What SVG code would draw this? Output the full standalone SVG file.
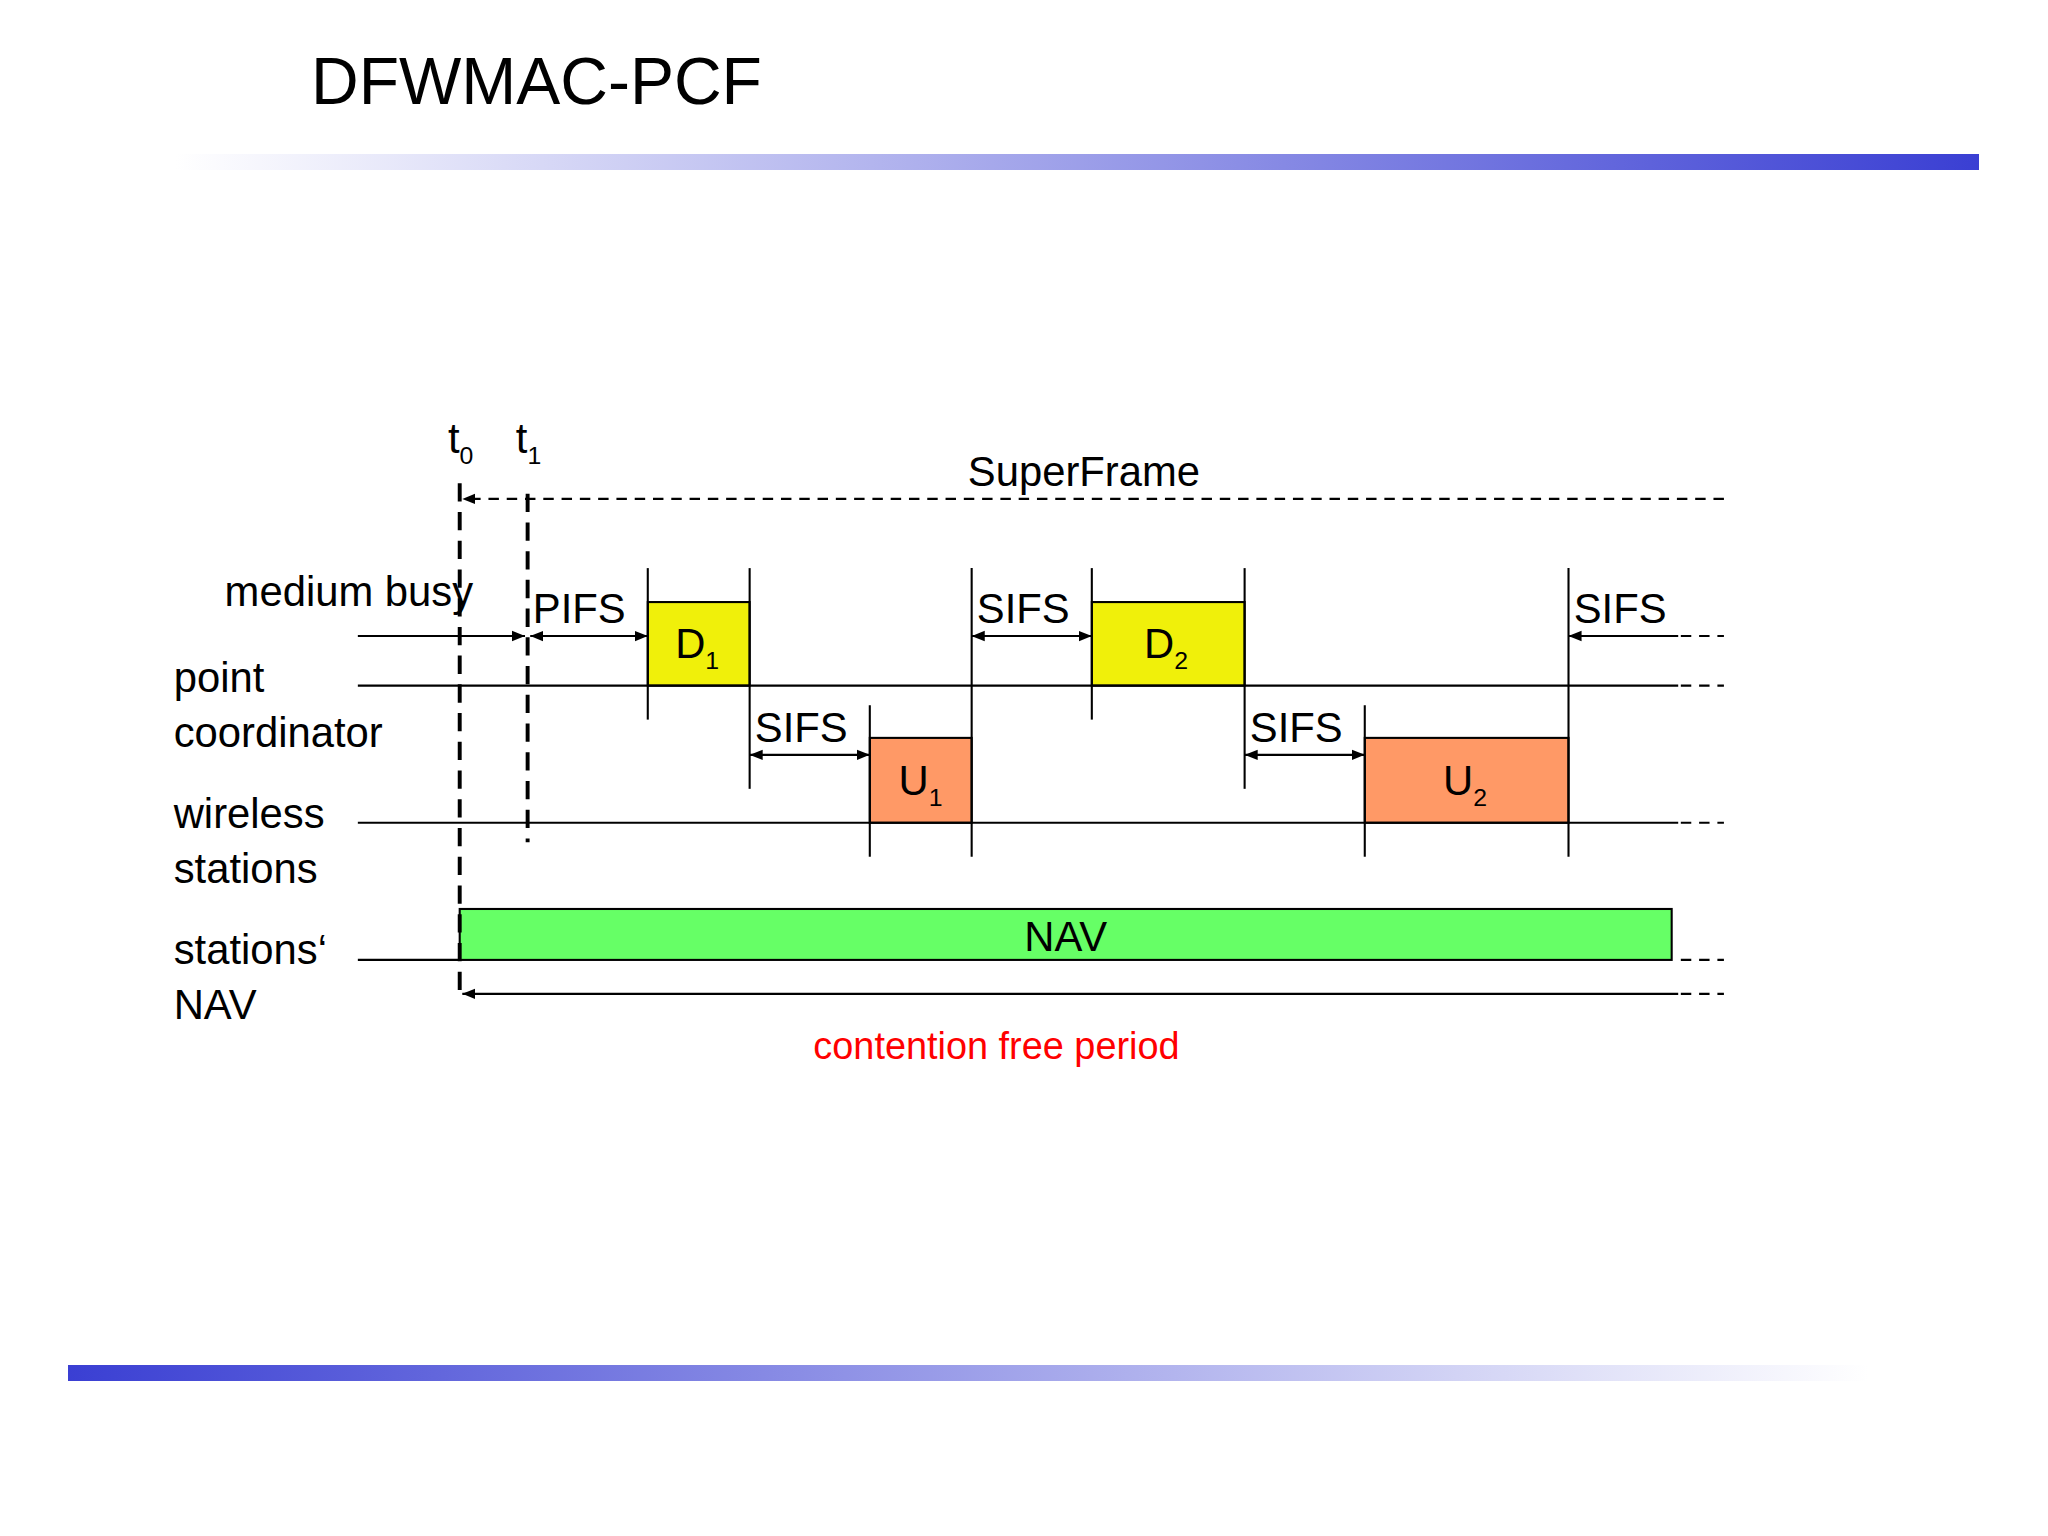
<svg xmlns="http://www.w3.org/2000/svg" width="2048" height="1536" viewBox="0 0 2048 1536">
<defs>
<linearGradient id="gTop" x1="0" x2="1" y1="0" y2="0"><stop offset="0" stop-color="#ffffff"/><stop offset="1" stop-color="#3a3fd3"/></linearGradient>
<linearGradient id="gBot" x1="0" x2="1" y1="0" y2="0"><stop offset="0" stop-color="#3a3fd3"/><stop offset="1" stop-color="#ffffff"/></linearGradient>
<marker id="ah" viewBox="0 0 10 10" refX="10" refY="5" markerWidth="10" markerHeight="10" markerUnits="userSpaceOnUse" orient="auto-start-reverse"><path d="M0,1 L10,5 L0,9 z" fill="#000"/></marker>
<style>
text{font-family:"Liberation Sans",Arial,sans-serif;fill:#000}
.lbl{font-size:32px}
.sub{font-size:19px}
.ln{stroke:#000;stroke-width:1.6;fill:none}
.dsh{stroke:#000;stroke-width:1.6;stroke-dasharray:8 6;fill:none}
.thick{stroke:#000;stroke-width:3;stroke-dasharray:14 8;fill:none}
</style>
</defs>
<rect width="2048" height="1536" fill="#fff"/>
<text x="311" y="104" style="font-size:66px">DFWMAC-PCF</text>
<rect x="176" y="154" width="1803" height="16" fill="url(#gTop)"/>
<rect x="68" y="1365" width="1800" height="16" fill="url(#gBot)"/>
<g transform="scale(1.306)">
<g id="labels">
<text class="lbl" x="343" y="347">t<tspan class="sub" dy="8">0</tspan></text>
<text class="lbl" x="395" y="347">t<tspan class="sub" dy="8">1</tspan></text>
<text class="lbl" x="830" y="372" text-anchor="middle">SuperFrame</text>
<text class="lbl" x="172" y="464">medium busy</text>
<text class="lbl" x="133" y="530">point</text>
<text class="lbl" x="133" y="572">coordinator</text>
<text class="lbl" x="133" y="634">wireless</text>
<text class="lbl" x="133" y="676">stations</text>
<text class="lbl" x="133" y="738">stations‘</text>
<text class="lbl" x="133" y="780">NAV</text>
<text class="lbl" x="408" y="477">PIFS</text>
<text class="lbl" x="578" y="568">SIFS</text>
<text class="lbl" x="748" y="477">SIFS</text>
<text class="lbl" x="957" y="568">SIFS</text>
<text class="lbl" x="1205" y="477">SIFS</text>
<text x="763" y="811" text-anchor="middle" style="font-size:29px;fill:#ff0000">contention free period</text>
</g>
<g id="D1"><rect x="496" y="461" width="78" height="64" fill="#f0f00a" stroke="#000" stroke-width="1.6"/><text class="lbl" x="517" y="504">D<tspan class="sub" dy="8">1</tspan></text></g>
<g id="U1"><rect x="666" y="565" width="78" height="65" fill="#ff9966" stroke="#000" stroke-width="1.6"/><text class="lbl" x="688" y="609">U<tspan class="sub" dy="8">1</tspan></text></g>
<g id="D2"><rect x="836" y="461" width="117" height="64" fill="#f0f00a" stroke="#000" stroke-width="1.6"/><text class="lbl" x="876" y="504">D<tspan class="sub" dy="8">2</tspan></text></g>
<g id="U2"><rect x="1045" y="565" width="156" height="65" fill="#ff9966" stroke="#000" stroke-width="1.6"/><text class="lbl" x="1105" y="609">U<tspan class="sub" dy="8">2</tspan></text></g>
<g id="NAV"><rect x="352" y="696" width="928" height="39" fill="#66ff66" stroke="#000" stroke-width="1.6"/><text class="lbl" x="816" y="728" text-anchor="middle">NAV</text></g>
<g id="connectors">
<line class="dsh" x1="1320" y1="382" x2="354" y2="382" marker-end="url(#ah)"/>
<line class="thick" x1="352" y1="370" x2="352" y2="760"/>
<line class="thick" x1="404" y1="378" x2="404" y2="645"/>
<line class="ln" x1="274" y1="487" x2="402" y2="487" marker-end="url(#ah)"/>
<line class="ln" x1="406" y1="487" x2="496" y2="487" marker-start="url(#ah)" marker-end="url(#ah)"/>
<line class="ln" x1="274" y1="525" x2="1285" y2="525"/>
<line class="dsh" x1="1287" y1="525" x2="1320" y2="525"/>
<line class="ln" x1="274" y1="630" x2="1285" y2="630"/>
<line class="dsh" x1="1287" y1="630" x2="1320" y2="630"/>
<line class="ln" x1="274" y1="735" x2="352" y2="735"/>
<line class="dsh" x1="1287" y1="735" x2="1320" y2="735"/>
<line class="ln" x1="1285" y1="761" x2="354" y2="761" marker-end="url(#ah)"/>
<line class="dsh" x1="1287" y1="761" x2="1320" y2="761"/>
<line class="ln" x1="496" y1="435" x2="496" y2="551"/>
<line class="ln" x1="574" y1="435" x2="574" y2="604"/>
<line class="ln" x1="666" y1="540" x2="666" y2="656"/>
<line class="ln" x1="744" y1="435" x2="744" y2="656"/>
<line class="ln" x1="836" y1="435" x2="836" y2="551"/>
<line class="ln" x1="953" y1="435" x2="953" y2="604"/>
<line class="ln" x1="1045" y1="540" x2="1045" y2="656"/>
<line class="ln" x1="1201" y1="435" x2="1201" y2="656"/>
<line class="ln" x1="574" y1="578" x2="666" y2="578" marker-start="url(#ah)" marker-end="url(#ah)"/>
<line class="ln" x1="744" y1="487" x2="836" y2="487" marker-start="url(#ah)" marker-end="url(#ah)"/>
<line class="ln" x1="953" y1="578" x2="1045" y2="578" marker-start="url(#ah)" marker-end="url(#ah)"/>
<line class="ln" x1="1285" y1="487" x2="1201" y2="487" marker-end="url(#ah)"/>
<line class="dsh" x1="1287" y1="487" x2="1320" y2="487"/>
</g>
</g>
</svg>
